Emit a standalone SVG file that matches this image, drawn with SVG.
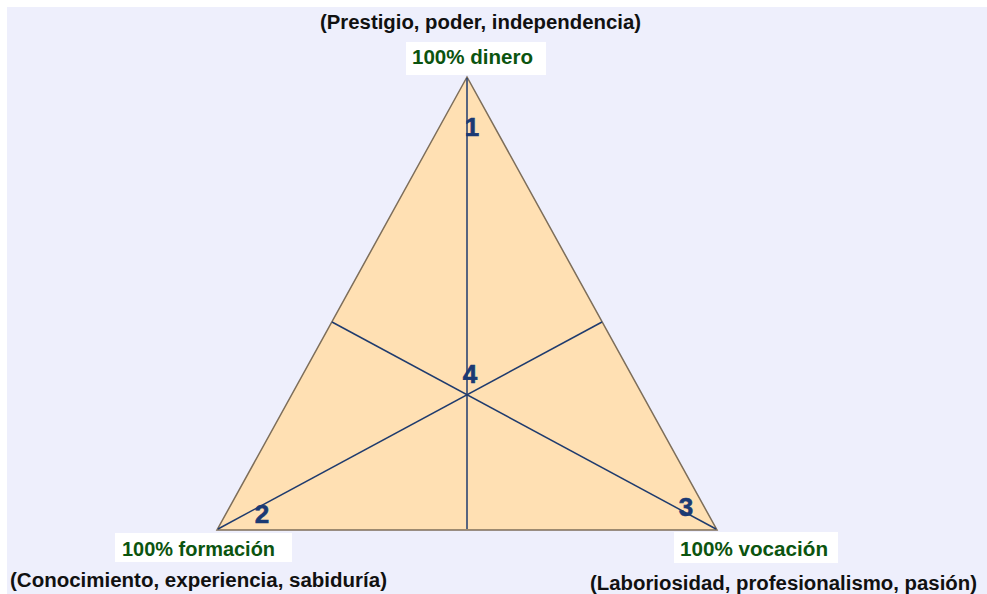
<svg xmlns="http://www.w3.org/2000/svg" width="987" height="594" viewBox="0 0 987 594">
<style>
.cap{font-family:"Liberation Sans",Arial,sans-serif;font-weight:bold;font-size:20px;fill:#111;}
.pct{font-family:"Liberation Sans",Arial,sans-serif;font-weight:bold;font-size:20px;fill:#0b540f;}
.num{font-family:"Liberation Sans",Arial,sans-serif;font-weight:bold;font-size:26px;fill:#1b3a74;stroke:#1b3a74;stroke-width:0.6;text-anchor:middle;}
.box{fill:#ffffff;}
.ln{stroke:#1f3b6e;stroke-width:1.5;fill:none;}
</style>
<rect x="0" y="0" width="987" height="594" fill="#ffffff"/>
<rect x="7" y="7" width="980" height="587" fill="#eeeffc"/>
<g id="triangle">
<polygon points="467,77 217,530 717,530" fill="#ffe0b3" stroke="#7d6e5a" stroke-width="1.5"/>
</g>
<g id="connectors">
<line class="ln" x1="467" y1="78" x2="467" y2="529" stroke-width="2"/>
<line class="ln" x1="218" y1="529" x2="602" y2="322"/>
<line class="ln" x1="716" y1="529" x2="332" y2="322"/>
</g>
<g id="n1"><text class="num" x="472" y="136">1</text></g>
<g id="n2"><text class="num" x="262" y="523">2</text></g>
<g id="n3"><text class="num" x="686" y="516">3</text></g>
<g id="n4"><text class="num" x="470" y="383">4</text></g>
<g id="dinero">
<text class="cap" x="320" y="29" textLength="321" lengthAdjust="spacingAndGlyphs">(Prestigio, poder, independencia)</text>
<rect class="box" x="406" y="42" width="140" height="33"/>
<text class="pct" x="412" y="64" textLength="121" lengthAdjust="spacingAndGlyphs">100% dinero</text>
</g>
<g id="formacion">
<rect class="box" x="115" y="533" width="177" height="29"/>
<text class="pct" x="122" y="556" textLength="153" lengthAdjust="spacingAndGlyphs">100% formación</text>
<text class="cap" x="10" y="587" textLength="377" lengthAdjust="spacingAndGlyphs">(Conocimiento, experiencia, sabiduría)</text>
</g>
<g id="vocacion">
<rect class="box" x="674" y="532" width="164" height="31"/>
<text class="pct" x="680" y="556" textLength="148" lengthAdjust="spacingAndGlyphs">100% vocación</text>
<text class="cap" x="590" y="590" textLength="387" lengthAdjust="spacingAndGlyphs">(Laboriosidad, profesionalismo, pasión)</text>
</g>
</svg>
